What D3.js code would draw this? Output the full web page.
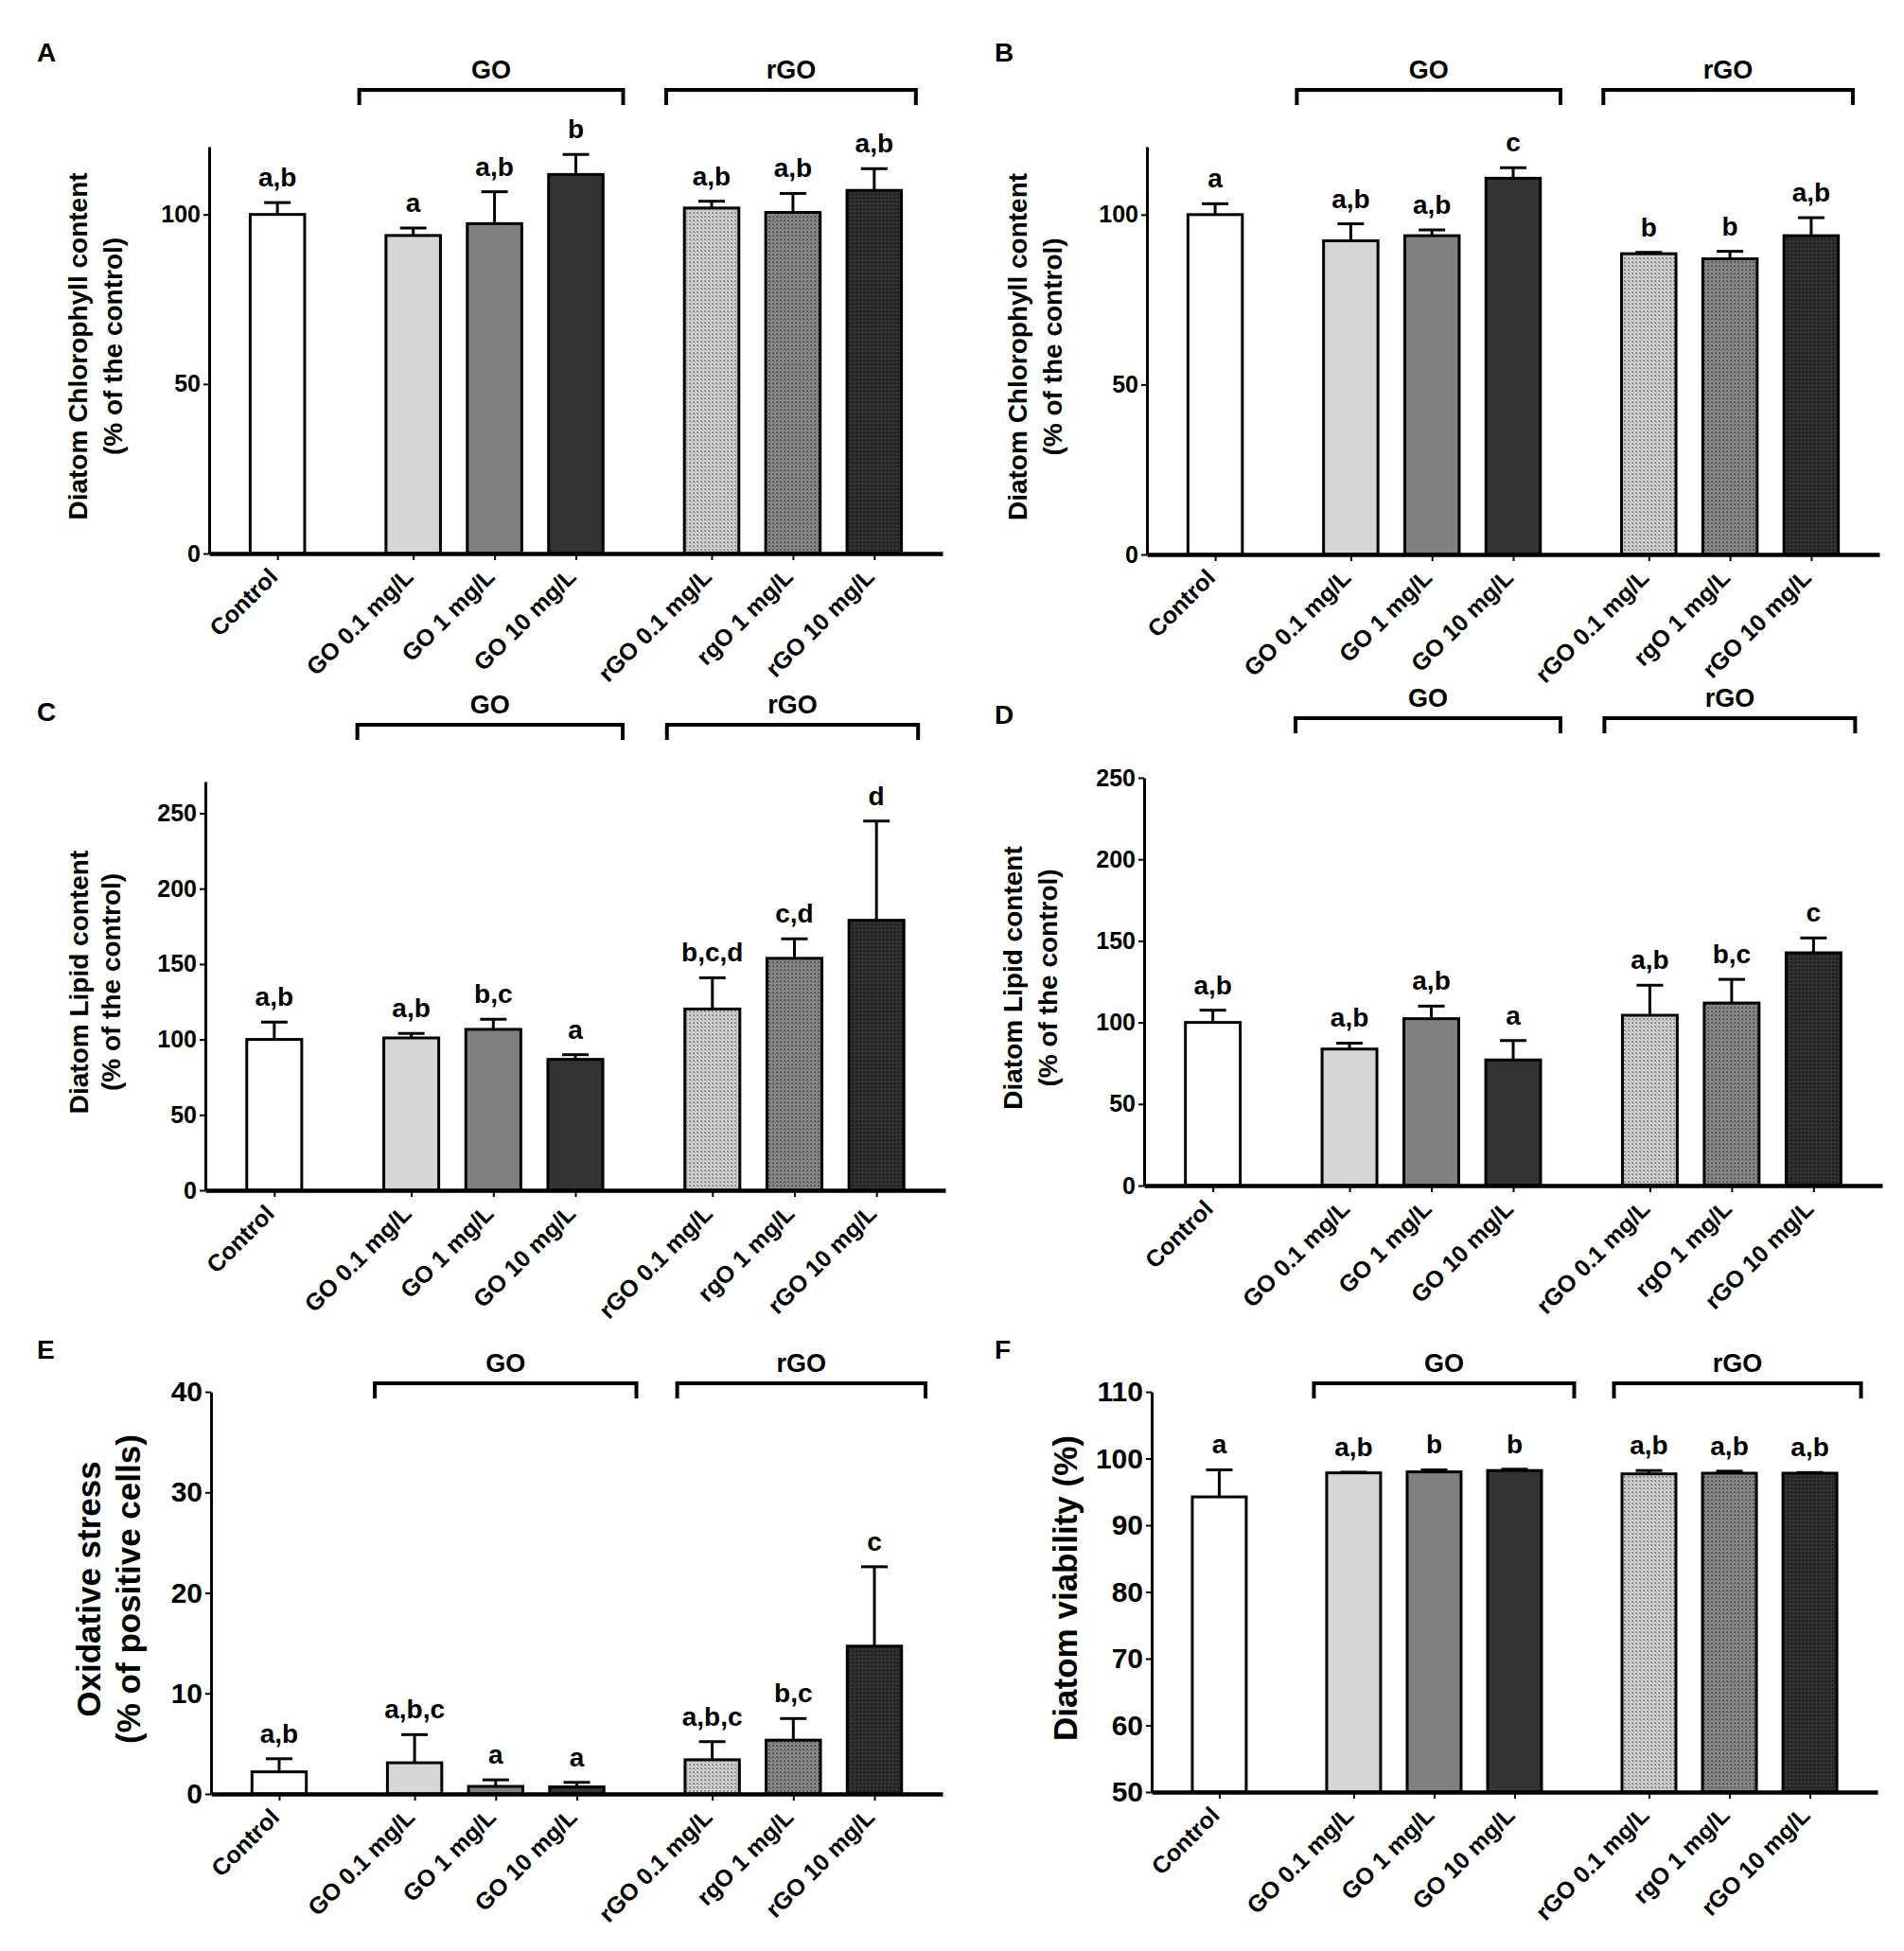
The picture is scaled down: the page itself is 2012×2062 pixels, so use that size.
<html>
<head>
<script src="https://d3js.org/d3.v7.min.js"></script>
<style>
  body { margin: 0; background: #fff; }
  svg text { font-family: "Liberation Sans", Arial, sans-serif; font-weight: bold; fill: #000; }
  .axis path, .axis line { stroke: #000; }
</style>
</head>
<body>
<svg id="fig" width="2012" height="2062"></svg>
<script>
// categories shared by all six panels
const categories = ['Control', 'GO 0.1 mg/L', 'GO 1 mg/L', 'GO 10 mg/L', 'rGO 0.1 mg/L', 'rgO 1 mg/L', 'rGO 10 mg/L'];
const groups = ['Control', 'GO', 'GO', 'GO', 'rGO', 'rGO', 'rGO'];

// A - chlorophyll
const chlA = [100, 93.8, 97.3, 111.8, 101.9, 100.6, 107.1];
const chlAsd = [3.5, 2.2, 9.4, 5.9, 2.0, 5.6, 6.4];
const chlAletters = ['a,b', 'a', 'a,b', 'b', 'a,b', 'a,b', 'a,b'];
// B - chlorophyll
const chlB = [100, 92.3, 93.8, 110.7, 88.5, 87.0, 93.8];
const chlBsd = [3.2, 5.0, 1.7, 3.1, 0.4, 2.2, 5.3];
const chlBletters = ['a', 'a,b', 'a,b', 'c', 'b', 'b', 'a,b'];
// C - lipid
const lipC = [100, 101, 106.7, 86.8, 120.2, 153.8, 179];
const lipCsd = [11.5, 3.0, 6.7, 3.1, 20.7, 12.9, 65.8];
const lipCletters = ['a,b', 'a,b', 'b,c', 'a', 'b,c,d', 'c,d', 'd'];
// D - lipid
const lipD = [100, 83.7, 102.3, 77, 104.4, 111.9, 142.7];
const lipDsd = [7.5, 3.6, 7.7, 11.9, 18.4, 14.5, 9.1];
const lipDletters = ['a,b', 'a,b', 'a,b', 'a', 'a,b', 'b,c', 'c'];
// E - oxidative stress
const oxE = [2.2, 3.1, 0.75, 0.7, 3.4, 5.35, 14.7];
const oxEsd = [1.3, 2.8, 0.65, 0.45, 1.8, 2.15, 7.9];
const oxEletters = ['a,b', 'a,b,c', 'a', 'a', 'a,b,c', 'b,c', 'c'];
// F - viability
const viaF = [94.25, 97.85, 98.0, 98.2, 97.7, 97.8, 97.8];
const viaFsd = [4.05, 0.1, 0.3, 0.2, 0.5, 0.3, 0.1];
const viaFletters = ['a', 'a,b', 'b', 'b', 'a,b', 'a,b', 'a,b'];

const ticksChl = [0, 50, 100];
const ticksLip = [0, 50, 100, 150, 200, 250];
const ticksOx = [0, 10, 20, 30, 40];
const ticksVia = [50, 60, 70, 80, 90, 100, 110];

const fills = ['#ffffff', '#d6d6d6', '#808080', '#333333', 'url(#dotLight)', 'url(#dotMid)', 'url(#dotDark)'];

const svg = d3.select('svg#fig');
svg.append('rect').attr('width', 2012).attr('height', 2062).attr('fill', '#fff');

// dotted textures for the rGO bars
const defs = svg.append('defs');
function dots(id, base, dot) {
    let p = defs.append('pattern').attr('id', id)
        .attr('width', 4).attr('height', 4).attr('patternUnits', 'userSpaceOnUse');
    p.append('rect').attr('width', 4).attr('height', 4).attr('fill', base);
    p.append('rect').attr('width', 2).attr('height', 2).attr('fill', dot);
    p.append('rect').attr('x', 2).attr('y', 2).attr('width', 1).attr('height', 1).attr('fill', dot);
}
dots('dotLight', '#d2d2d2', '#8e8e8e');
dots('dotMid', '#8a8a8a', '#575757');
dots('dotDark', '#343434', '#1a1a1a');

// slot position: gap of 0.67 between groups
let slots = [];
let gaps = 0;
groups.forEach((g, i) => {
    if (i > 0 && g !== groups[i - 1]) gaps++;
    slots.push(i + gaps * 0.67);
});

function panel(p) {
    const g = svg.append('g');
    const x = d3.scaleLinear().domain([-0.84, slots[6] + 0.84]).range([p.axisX, p.axisEnd]);
    const y = d3.scaleLinear().domain([p.yMin, p.yMax]).range([p.base, p.top]);
    const step = x(1) - x(0);
    const bw = step * 0.67;

    // bars
    g.selectAll('rect.bar').data(p.values).join('rect')
        .attr('class', 'bar')
        .attr('x', (d, i) => x(slots[i]) - bw / 2)
        .attr('y', d => y(d))
        .attr('width', bw)
        .attr('height', d => y(p.yMin) - y(d))
        .attr('fill', (d, i) => fills[i])
        .attr('stroke', '#000')
        .attr('stroke-width', 3);

    // error bars (upper only)
    p.values.forEach((d, i) => {
        const cx = x(slots[i]);
        const top = y(d + p.sd[i]);
        g.append('line').attr('x1', cx).attr('x2', cx).attr('y1', y(d)).attr('y2', top)
            .attr('stroke', '#000').attr('stroke-width', 3);
        g.append('line').attr('x1', cx - 14).attr('x2', cx + 14).attr('y1', top).attr('y2', top)
            .attr('stroke', '#000').attr('stroke-width', 3);
        g.append('text').attr('x', cx).attr('y', top - 17)
            .attr('text-anchor', 'middle').attr('font-size', 28)
            .text(p.letters[i]);
    });

    // y axis
    let yAxis = d3.axisLeft(y).tickValues(p.ticks).tickSize(6).tickSizeOuter(0).tickPadding(3);
    let ya = g.append('g').attr('class', 'axis')
        .attr('transform', `translate(${p.axisX},0)`)
        .call(yAxis);
    ya.select('.domain').attr('stroke-width', 3);
    ya.selectAll('.tick line').attr('stroke-width', 2);
    ya.selectAll('text').attr('font-size', p.tickFont).attr('font-family', null);

    // x axis
    let xAxis = d3.axisBottom(x).tickValues(slots).tickSize(7).tickSizeOuter(0)
        .tickFormat((d, i) => categories[i]);
    let xa = g.append('g').attr('class', 'axis')
        .attr('transform', `translate(0,${p.base})`)
        .call(xAxis);
    xa.select('.domain').attr('stroke-width', 4.5);
    xa.selectAll('.tick line').attr('stroke-width', 2);
    xa.selectAll('text')
        .attr('font-size', 25).attr('font-family', null)
        .attr('x', 0).attr('y', 0).attr('dy', '0.35em')
        .attr('text-anchor', 'end')
        .attr('transform', 'translate(-5,20) rotate(-45)');

    // y title
    const mid = (p.top + p.base) / 2 - 4;
    p.title.forEach((t, k) => {
        g.append('text')
            .attr('transform', `translate(${p.axisX + p.titleX[k]},${mid}) rotate(-90)`)
            .attr('text-anchor', 'middle').attr('dy', '0.35em')
            .attr('font-size', p.titleFont)
            .text(t);
    });

    // group brackets
    const br = [
        {name: 'GO', a: x(slots[1]) + p.brGO[0], b: x(slots[3]) + p.brGO[1]},
        {name: 'rGO', a: x(slots[4]) + p.brR[0], b: x(slots[6]) + p.brR[1]}
    ];
    br.forEach(b => {
        g.append('path')
            .attr('d', `M${b.a},${p.brY + 16}V${p.brY}H${b.b}V${p.brY + 16}`)
            .attr('fill', 'none').attr('stroke', '#000').attr('stroke-width', 4);
        g.append('text').attr('x', (b.a + b.b) / 2).attr('y', p.brY - 12)
            .attr('text-anchor', 'middle').attr('font-size', 27)
            .text(b.name);
    });

    // panel letter
    g.append('text').attr('x', p.labX).attr('y', p.labY).attr('font-size', 28).text(p.label);
}

const chlTitle = ['Diatom Chlorophyll content', '(% of the control)'];
const lipTitle = ['Diatom Lipid content', '(% of the control)'];

panel({label: 'A', labX: 39, labY: 65, axisX: 221, axisEnd: 996, top: 155, base: 585,
    yMin: 0, yMax: 120, ticks: ticksChl, tickFont: 25, values: chlA, sd: chlAsd, letters: chlAletters,
    title: chlTitle, titleX: [-139, -102], titleFont: 28, brY: 95, brGO: [-57, 50], brR: [-48, 44]});
panel({label: 'B', labX: 1051, labY: 65, axisX: 1212, axisEnd: 1986, top: 155, base: 586,
    yMin: 0, yMax: 120, ticks: ticksChl, tickFont: 25, values: chlB, sd: chlBsd, letters: chlBletters,
    title: chlTitle, titleX: [-137, -100], titleFont: 28, brY: 95, brGO: [-57, 50], brR: [-48, 44]});
panel({label: 'C', labX: 39, labY: 762, axisX: 217, axisEnd: 999, top: 826, base: 1258,
    yMin: 0, yMax: 271, ticks: ticksLip, tickFont: 25, values: lipC, sd: lipCsd, letters: lipCletters,
    title: lipTitle, titleX: [-134, -100], titleFont: 28, brY: 766, brGO: [-57, 50], brR: [-48, 44]});
panel({label: 'D', labX: 1051, labY: 765, axisX: 1209, axisEnd: 1989, top: 822, base: 1253,
    yMin: 0, yMax: 250, ticks: ticksLip, tickFont: 25, values: lipD, sd: lipDsd, letters: lipDletters,
    title: lipTitle, titleX: [-139, -102], titleFont: 28, brY: 759, brGO: [-57, 50], brR: [-48, 44]});
panel({label: 'E', labX: 39, labY: 1436, axisX: 223, axisEnd: 996, top: 1471, base: 1896,
    yMin: 0, yMax: 40, ticks: ticksOx, tickFont: 30, values: oxE, sd: oxEsd, letters: oxEletters,
    title: ['Oxidative stress', '(% of positive cells)'], titleX: [-129, -87], titleFont: 35,
    brY: 1462, brGO: [-42, 63], brR: [-37, 54]});
panel({label: 'F', labX: 1051, labY: 1436, axisX: 1217, axisEnd: 1984, top: 1471, base: 1894,
    yMin: 50, yMax: 110, ticks: ticksVia, tickFont: 30, values: viaF, sd: viaFsd, letters: viaFletters,
    title: ['Diatom viability (%)'], titleX: [-91], titleFont: 35,
    brY: 1462, brGO: [-42, 63], brR: [-37, 54]});
</script>
</body>
</html>
